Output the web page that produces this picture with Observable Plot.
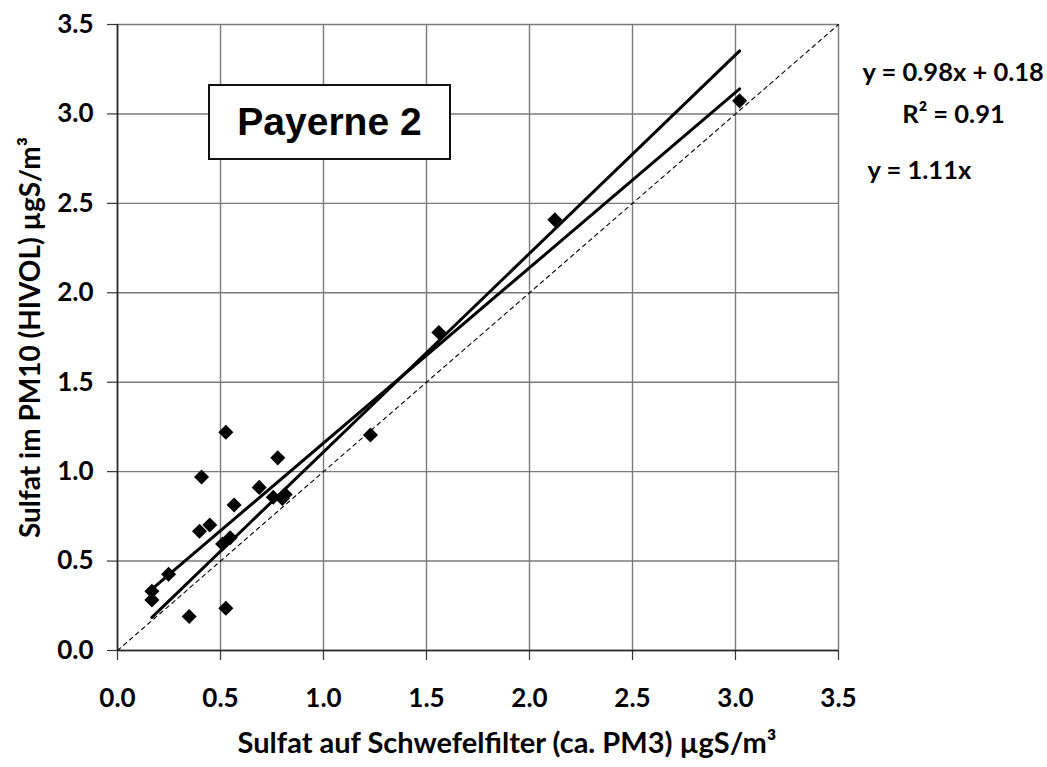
<!DOCTYPE html>
<html>
<head>
<meta charset="utf-8">
<script src="https://cdn.jsdelivr.net/npm/d3@7"></script>
<script src="https://cdn.jsdelivr.net/npm/@observablehq/plot@0.6"></script>
<style>
  body { margin: 0; background: #fff; }
  #wrap { position: relative; width: 1047px; height: 767px; }
  #box {
    position: absolute; left: 208px; top: 84px; width: 239px; height: 72px;
    border: 2.5px solid #111; background: #fff;
    font-family: "Liberation Sans", Arial, sans-serif; font-weight: bold; font-size: 39px;
    display: flex; align-items: center; justify-content: center; box-sizing: content-box;
  }
</style>
</head>
<body>
<div id="wrap"></div>
<script>
// Measured points: x = Sulfat auf Schwefelfilter (ca. PM3), y = Sulfat im PM10 (HIVOL)
const xVals = [0.526, 0.778, 0.408, 0.688, 0.566, 0.756, 0.814, 0.800, 0.448, 0.398, 0.547, 0.510, 0.248, 0.167, 0.167, 0.348, 0.526, 1.228, 1.560, 2.123, 3.020];
const yVals = [1.220, 1.077, 0.970, 0.912, 0.814, 0.857, 0.872, 0.850, 0.702, 0.667, 0.630, 0.596, 0.426, 0.331, 0.283, 0.190, 0.236, 1.205, 1.778, 2.408, 3.073];

// Trend lines (from the equations shown)
const fitNames = ["y = 0.98x + 0.18", "y = 1.11x"];
const fitSlopes = [0.98, 1.11];
const fitIntercepts = [0.18, 0.0];
const fitXStart = [0.167, 0.167];
const fitXEnd = [3.02, 3.02];

const identityX = [0, 3.5];
const ticks = [0, 0.5, 1.0, 1.5, 2.0, 2.5, 3.0, 3.5];

const xTitle = "Sulfat auf Schwefelfilter (ca. PM3) µgS/m³";
const yTitle = "Sulfat im PM10 (HIVOL) µgS/m³";
const annotations = ["y = 0.98x + 0.18", "R² = 0.91", "y = 1.11x"];
const boxLabel = "Payerne 2";

const points = xVals.map((x, i) => ({x, y: yVals[i]}));
const fitData = fitNames.flatMap((name, i) => [
  {name, x: fitXStart[i], y: fitSlopes[i] * fitXStart[i] + fitIntercepts[i]},
  {name, x: fitXEnd[i], y: fitSlopes[i] * fitXEnd[i] + fitIntercepts[i]}
]);
const identity = identityX.map(v => ({x: v, y: v}));

const font = "Lato, 'Open Sans', sans-serif";

const chart = Plot.plot({
  width: 1047,
  height: 767,
  marginLeft: 117,
  marginRight: 209,
  marginTop: 24,
  marginBottom: 117,
  style: {fontFamily: font, fontSize: "26px", fontWeight: "bold", color: "#000", background: "#fff"},
  x: {domain: [0, 3.5]},
  y: {domain: [0, 3.5]},
  marks: [
    Plot.gridX(ticks, {stroke: "#7a7a7a", strokeOpacity: 1, strokeWidth: 1.4}),
    Plot.gridY(ticks, {stroke: "#7a7a7a", strokeOpacity: 1, strokeWidth: 1.4}),
    Plot.axisX(ticks, {tickSize: 10, tickPadding: 28, tickFormat: d3.format(".1f"), label: null, stroke: "#333", strokeWidth: 1.2, fontSize: 26}),
    Plot.axisY(ticks, {tickSize: 10, tickPadding: 14, tickFormat: d3.format(".1f"), label: null, stroke: "#333", strokeWidth: 1.2, fontSize: 26}),
    Plot.ruleX([0], {stroke: "#222", strokeWidth: 1.6}),
    Plot.ruleY([0], {stroke: "#222", strokeWidth: 1.6}),
    Plot.line(identity, {x: "x", y: "y", stroke: "#000", strokeWidth: 1.1, strokeDasharray: "4,4"}),
    Plot.dot(points, {x: "x", y: "y", symbol: "square", r: 6, rotate: 45, fill: "#000", stroke: "none"}),
    Plot.line(fitData, {x: "x", y: "y", z: "name", stroke: "#000", strokeWidth: 3}),
    Plot.text([xTitle], {frameAnchor: "bottom", dx: 29, dy: 102, text: d => d, fontSize: 29, fontWeight: "bold", fontFamily: font}),
    Plot.text([yTitle], {frameAnchor: "left", textAnchor: "middle", dx: -86, rotate: -90, text: d => d, fontSize: 28, fontWeight: "bold", fontFamily: font}),
    Plot.text([annotations[0]], {frameAnchor: "top-right", dx: 24, dy: 38.5, textAnchor: "start", text: d => d, fontSize: 25.5, fontWeight: "bold", fontFamily: font}),
    Plot.text([annotations[1]], {frameAnchor: "top-right", dx: 115, dy: 80.5, textAnchor: "middle", text: d => d, fontSize: 25.5, fontWeight: "bold", fontFamily: font}),
    Plot.text([annotations[2]], {frameAnchor: "top-right", dx: 29, dy: 136.5, textAnchor: "start", text: d => d, fontSize: 25.5, fontWeight: "bold", fontFamily: font})
  ]
});

const wrap = document.getElementById("wrap");
wrap.appendChild(chart);
const box = document.createElement("div");
box.id = "box";
box.textContent = boxLabel;
wrap.appendChild(box);
</script>
</body>
</html>
